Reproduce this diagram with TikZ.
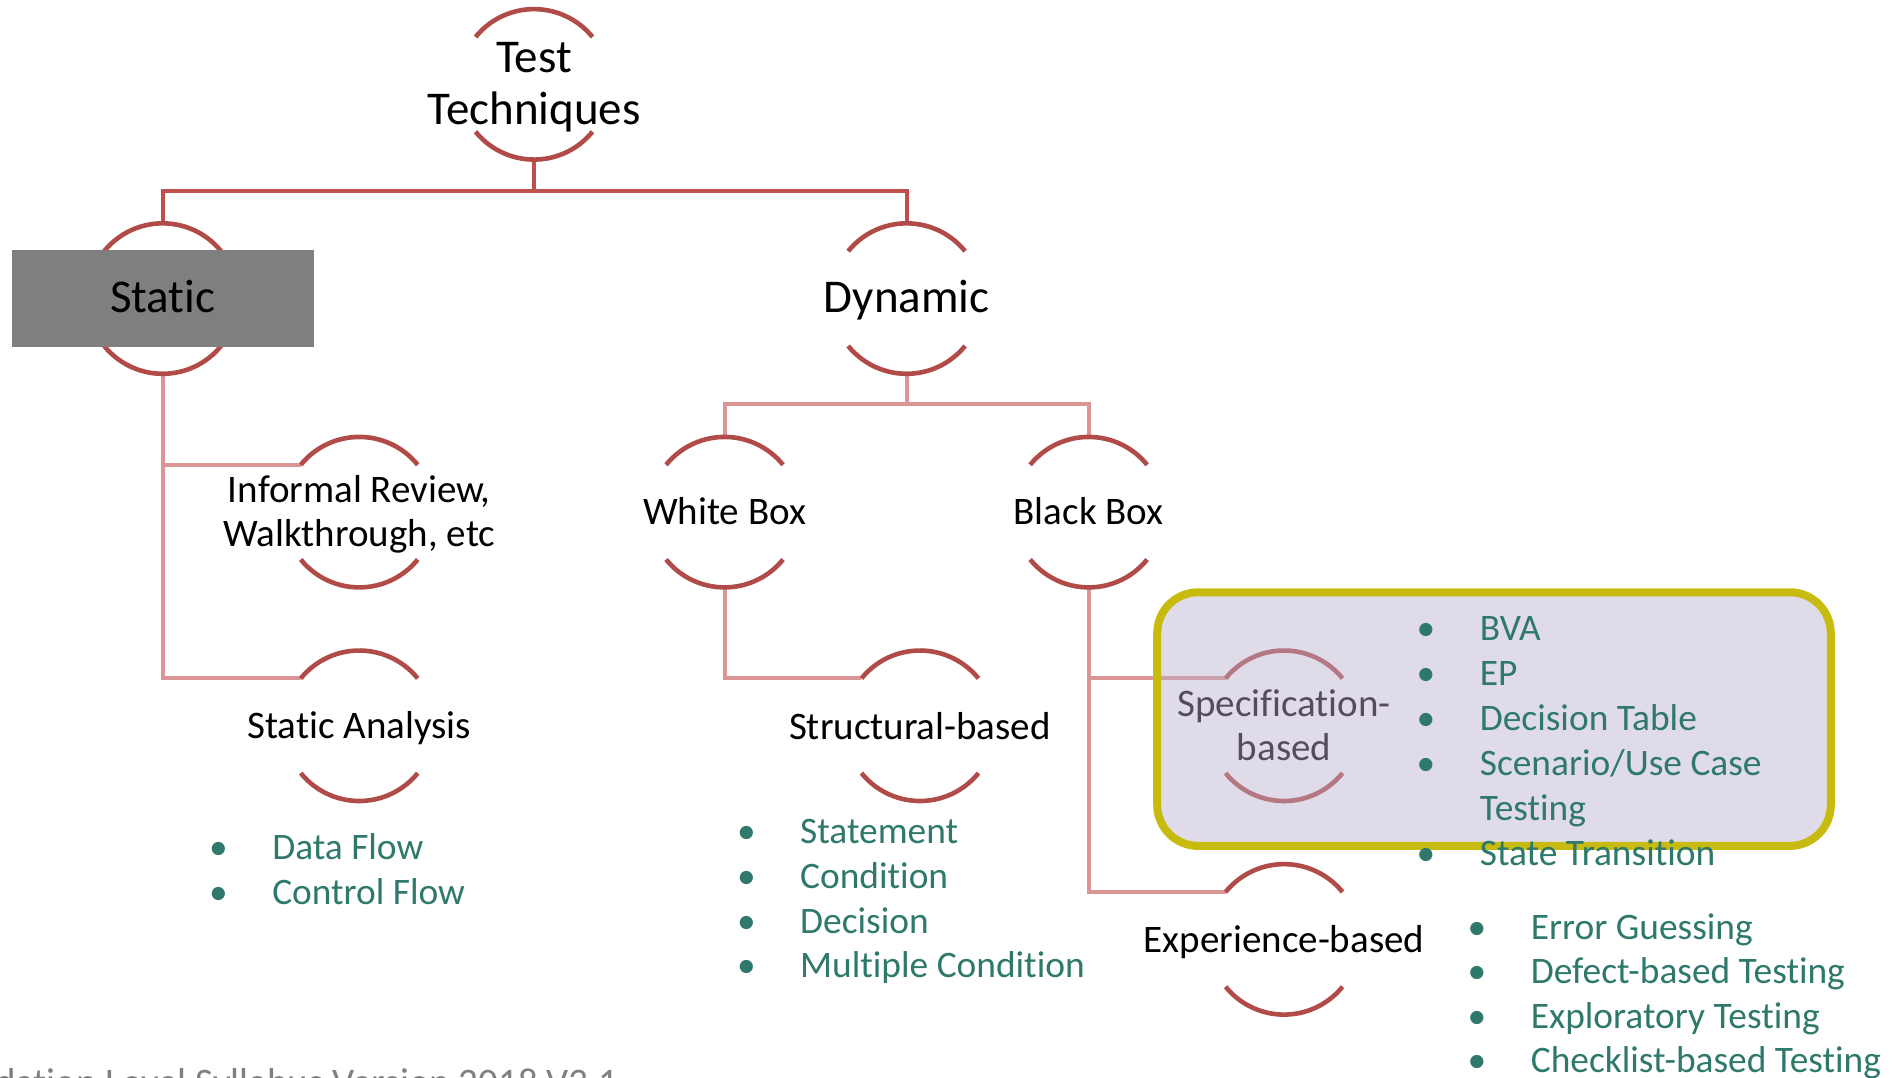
\documentclass[tikz,border=0pt]{standalone}
\usepackage{fontspec}
\setmainfont{Carlito}[Ligatures={NoCommon}]
\definecolor{arcred}{RGB}{176,75,72}
\definecolor{toplinecol}{RGB}{192,80,77}
\definecolor{sublinecol}{RGB}{217,150,148}
\definecolor{itemteal}{RGB}{46,121,107}
\definecolor{boxborder}{RGB}{198,187,14}
\definecolor{boxfill}{RGB}{187,175,204}
\definecolor{staticgray}{RGB}{127,127,127}
\definecolor{footgray}{RGB}{128,128,128}

% top and bottom bracket arcs of a hub circle
\newcommand\hubarcs[1]{%
  \draw[ring] (#1.141) arc[start angle=141,end angle=39,radius=37.62pt];
  \draw[ring] (#1.219) arc[start angle=219,end angle=321,radius=37.62pt];}

\begin{document}
\begin{tikzpicture}[x=0.6068pt,y=-0.6068pt,
  hub/.style={circle,minimum size=75.24pt,inner sep=0pt,outer sep=0pt},
  biglbl/.style={font=\fontsize{23.5}{26}\selectfont,align=center,inner sep=0pt},
  lbl/.style={font=\fontsize{19.5}{21.8}\selectfont,align=center,inner sep=0pt},
  ring/.style={draw=arcred,line width=2.3pt},
  topconn/.style={draw=toplinecol,line width=2pt},
  subconn/.style={draw=sublinecol,line width=2pt},
  item/.style={font=\fontsize{18.7}{22}\selectfont,text=itemteal,anchor=base west,inner sep=0pt},
  dot/.style={font=\fontsize{18.7}{22}\selectfont,text=itemteal,anchor=base,inner sep=0pt},
  specbox/.style={draw=boxborder,line width=4pt,fill=boxfill,fill opacity=0.45,rounded corners=20.5pt},
  footer/.style={font=\fontsize{19.5}{22}\selectfont,text=footgray,anchor=base east,inner sep=0pt}]
\useasboundingbox (0,0) rectangle (1568,888);
\clip (0,0) rectangle (1568,888);

% hubs
\node[hub] (tt) at (440,69.5) {};
\node[hub] (st) at (134,246) {};
\node[hub] (dy) at (747,246) {};
\node[hub] (ir) at (296,422) {};
\node[hub] (sa) at (296,598) {};
\node[hub] (wb) at (597,422) {};
\node[hub] (bb) at (897,422) {};
\node[hub] (sb) at (758,598) {};
\node[hub] (sp) at (1058,598) {};
\node[hub] (ex) at (1058,774) {};

% connectors
\coordinate (j0) at (440,157);
\coordinate (j1) at (747,333);
\draw[topconn] (tt.south) -- (j0);
\draw[topconn] (st.north) |- (j0) -| (dy.north);
\draw[subconn] (dy.south) -- (j1);
\draw[subconn] (wb.north) |- (j1) -| (bb.north);
\draw[subconn] (st.south) |- (ir.141);
\draw[subconn] (st.south) |- (sa.141);
\draw[subconn] (wb.south) |- (sb.141);
\draw[subconn] (bb.south) |- (sp.141);
\draw[subconn] (bb.south) |- (ex.141);

% bracket arcs
\foreach \h in {tt,st,dy,ir,sa,wb,bb,sb,sp,ex} {\hubarcs{\h}}

% grey panel behind "Static"
\fill[staticgray] (10,206) rectangle (258.5,285.7);

% labels
\node[biglbl] (tt-l) at (440,71.5) {Test\\Techniques};
\node[biglbl] (st-l) at (134,244) {Static};
\node[biglbl] (dy-l) at (747,247) {Dynamic};
\node[lbl] (ir-l) at (296,424) {Informal Review,\\Walkthrough, etc};
\node[lbl] (sa-l) at (296,600) {Static Analysis};
\node[lbl] (wb-l) at (597,421) {White Box};
\node[lbl] (bb-l) at (897,421) {Black Box};
\node[lbl] (sb-l) at (758,598.5) {Structural-based};
\node[lbl] (sp-l) at (1058,597.5) {Specification-\\based};
\node[lbl] (ex-l) at (1058,776) {Experience-based};

% highlight box over the specification-based branch
\draw[specbox] (953.5,488) rectangle (1508.5,697);

% technique lists
\foreach \t [count=\i] in {Data Flow,Control Flow} {
  \node[dot] (sa-d\i) at (180,{708+36.9*(\i-1)}) {•};
  \node[item] (sa-i\i) at (224,{708+36.9*(\i-1)}) {\t};}
\foreach \t [count=\i] in {Statement,Condition,Decision,Multiple Condition} {
  \node[dot] (sb-d\i) at (615,{695+36.9*(\i-1)}) {•};
  \node[item] (sb-i\i) at (659,{695+36.9*(\i-1)}) {\t};}
\foreach \t [count=\i] in {BVA,EP,Decision Table,Scenario/Use Case,Testing,State Transition} {
  \node[item] (sp-i\i) at (1219,{528+37*(\i-1)}) {\t};}
\foreach \i in {1,2,3,4,6} {
  \node[dot] (sp-d\i) at (1175,{528+37*(\i-1)}) {•};}
\foreach \t [count=\i] in {Error Guessing,Defect-based Testing,Exploratory Testing,Checklist-based Testing} {
  \node[dot] (ex-d\i) at (1217,{774+36.6*(\i-1)}) {•};
  \node[item] (ex-i\i) at (1261,{774+36.6*(\i-1)}) {\t};}

% footer line
\node[footer] (foot) at (510,903) {Foundation Level Syllabus Version 2018 V3.1};
\end{tikzpicture}
\end{document}
